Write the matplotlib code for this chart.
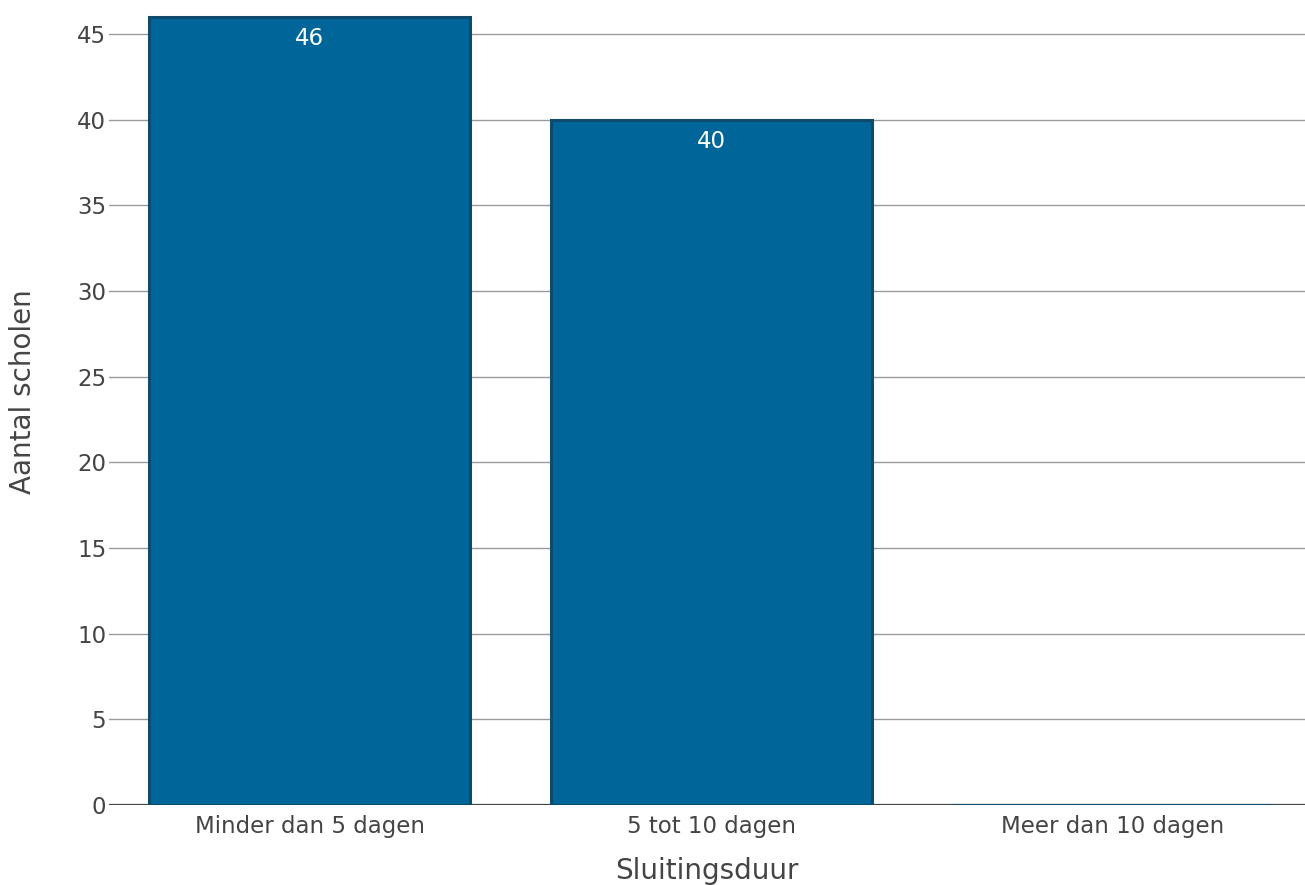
import matplotlib.pyplot as plt

categories = ["Minder dan 5 dagen", "5 tot 10 dagen", "Meer dan 10 dagen"]
values = [46, 40, 0]
yticks = [0, 5, 10, 15, 20, 25, 30, 35, 40, 45]

plt.rcParams["font.family"] = ["DejaVu Sans"]
txt = "#444444"

fig = plt.figure(figsize=(13.05, 8.85), dpi=100)
ax = fig.add_axes([109 / 1305, 80 / 885, 1 - 109 / 1305, 805 / 885])

x = range(len(categories))
bars = ax.bar(x, values, width=0.8, color="#006699", edgecolor="#0d4a6b",
              linewidth=2.2, zorder=3)

for b, v in zip(bars, values):
    if v > 0:
        ax.text(b.get_x() + b.get_width() / 2, v - 0.6, str(v), ha="center",
                va="top", color="white", fontsize=16.5, zorder=4)

ax.set_xlim(-0.5, 2.479)
ax.set_ylim(0, 46.98)
ax.set_yticks(yticks)
ax.set_xticks(list(x))
ax.set_xticklabels(categories)
ax.grid(axis="y", color="#9a9a9a", linewidth=1, zorder=0)
ax.axhline(0, color="#444444", linewidth=1.6, zorder=2)
ax.tick_params(axis="both", length=0, labelsize=16.5, labelcolor=txt, pad=2)
ax.tick_params(axis="x", pad=7)
for s in ax.spines.values():
    s.set_visible(False)

ax.set_xlabel("Sluitingsduur", fontsize=20, color=txt, labelpad=14)
ax.set_ylabel("Aantal scholen", fontsize=20, color=txt)
ax.yaxis.set_label_coords(-0.060, 0.514)

fig.savefig("out.png", dpi=100)
